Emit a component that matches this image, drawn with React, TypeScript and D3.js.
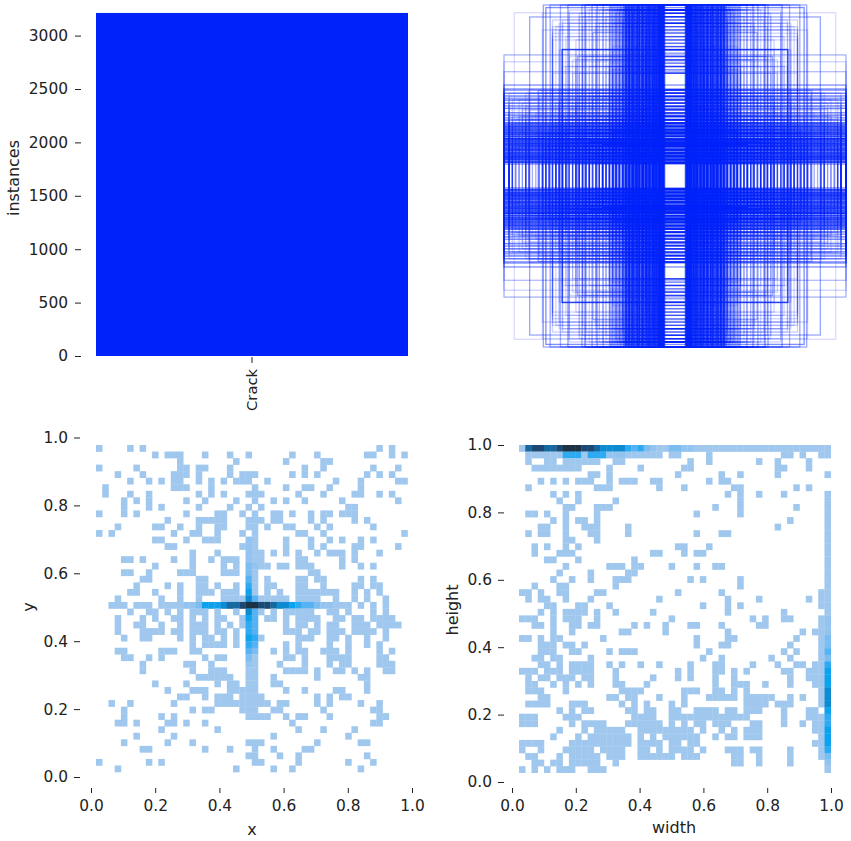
import React, { useEffect, useRef } from 'react';
import * as d3 from 'd3';

// bar panel
const classNames = ['Crack'];
const instanceCounts = [3212];
const instanceTicks = [0, 500, 1000, 1500, 2000, 2500, 3000];
const unitTicks = [0, 0.2, 0.4, 0.6, 0.8, 1];

// occupied histogram cells per row (top row first), columns 0-49
const xyRows: number[][] = [
  [0, 5, 7, 45, 47],
  [9, 11, 12, 13, 17, 21, 24, 31, 35, 43, 44, 47, 49],
  [13, 22, 30, 36, 37],
  [0, 6, 13, 14, 16, 17, 21, 33, 36, 44, 48],
  [3, 7, 12, 13, 14, 16, 21, 23, 24, 25, 31, 33, 35, 43, 45, 47],
  [5, 8, 10, 12, 13, 16, 18, 20, 22, 23, 24, 27, 38, 42, 48, 49],
  [1, 12, 13, 14, 18, 25, 30, 33, 34, 37, 42],
  [1, 5, 8, 16, 18, 20, 24, 25, 26, 32, 36, 41, 42, 45, 47],
  [4, 6, 8, 14, 17, 22, 25, 28, 30, 33, 39, 48],
  [4, 8, 10, 16, 21, 24, 26, 40, 41],
  [0, 4, 6, 14, 19, 20, 23, 25, 28, 29, 31, 34, 36, 37, 39, 40, 41],
  [11, 16, 17, 18, 19, 20, 24, 25, 26, 28, 29, 34, 36, 41, 43],
  [3, 9, 10, 13, 16, 19, 20, 24, 25, 27, 30, 31, 35, 37, 44],
  [0, 2, 12, 15, 16, 19, 23, 25, 32, 33, 36, 49],
  [9, 10, 14, 17, 18, 19, 24, 25, 30, 34, 37, 39, 42, 44],
  [11, 12, 23, 24, 25, 30, 34, 36, 41, 42, 48],
  [15, 19, 24, 25, 26, 28, 30, 32, 35, 37, 38, 39, 41, 45],
  [4, 5, 7, 12, 15, 18, 20, 21, 22, 24, 25, 26, 32, 33, 39, 41],
  [9, 15, 20, 22, 24, 25, 26, 27, 29, 30, 32, 33, 34, 39, 42, 44],
  [4, 5, 8, 13, 14, 15, 20, 21, 22, 24, 25, 34, 35],
  [7, 8, 16, 17, 24, 25, 27, 32, 33, 35, 36, 42, 44],
  [6, 11, 13, 16, 17, 19, 22, 24, 25, 27, 28, 32, 33, 36, 41, 42, 44, 45],
  [5, 6, 9, 13, 16, 17, 18, 20, 21, 22, 24, 25, 27, 29, 32, 33, 34, 35, 36, 37, 38, 41, 43, 45],
  [3, 10, 13, 16, 20, 21, 22, 23, 24, 25, 26, 27, 28, 29, 30, 32, 33, 34, 35, 38, 41, 43, 46],
  [2, 3, 4, 6, 7, 8, 10, 11, 12, 13, 14, 15, 16, 17, 18, 19, 20, 21, 22, 23, 24, 25, 26, 27, 28, 29, 30, 31, 32, 33, 34, 35, 36, 37, 38, 39, 40, 42, 44, 46],
  [5, 8, 9, 11, 13, 15, 16, 17, 19, 22, 24, 25, 26, 28, 30, 31, 32, 33, 34, 37, 38, 40, 44, 46],
  [3, 7, 9, 12, 13, 15, 17, 19, 20, 23, 24, 25, 27, 28, 30, 32, 33, 34, 35, 38, 39, 41, 42, 44, 45, 46, 47],
  [3, 6, 7, 10, 13, 15, 16, 17, 19, 21, 23, 24, 25, 30, 32, 33, 35, 37, 38, 41, 42, 43, 45, 46, 47, 48],
  [3, 7, 8, 9, 10, 12, 13, 15, 16, 17, 19, 20, 22, 24, 25, 30, 31, 32, 34, 35, 37, 38, 39, 41, 42, 43, 44, 46],
  [4, 7, 8, 13, 15, 17, 18, 20, 22, 24, 25, 26, 32, 33, 34, 37, 38, 40, 43, 46],
  [15, 17, 18, 19, 20, 22, 24, 25, 30, 32, 37, 40, 43, 45],
  [3, 4, 10, 11, 12, 15, 16, 24, 25, 28, 30, 32, 33, 36, 37, 38, 40, 45, 47],
  [4, 5, 8, 10, 17, 19, 20, 24, 25, 30, 31, 33, 37, 38, 39, 40, 45, 46],
  [7, 14, 15, 18, 24, 25, 29, 33, 37, 39, 40, 45, 46, 47],
  [7, 15, 18, 19, 20, 24, 25, 30, 31, 32, 33, 35, 38, 39, 41, 43, 46, 47],
  [16, 17, 18, 19, 20, 21, 24, 25, 28, 35, 42, 43],
  [9, 14, 19, 21, 22, 24, 25, 28, 29, 43],
  [11, 15, 16, 17, 21, 22, 23, 24, 25, 30, 33, 38, 39, 43],
  [13, 14, 17, 19, 20, 21, 23, 24, 25, 26, 35, 37, 39, 40],
  [2, 5, 12, 19, 20, 21, 22, 23, 24, 25, 26, 27, 29, 30, 35, 37, 42, 45],
  [4, 15, 17, 18, 23, 24, 25, 28, 29, 36, 44, 45],
  [4, 10, 12, 24, 25, 26, 27, 30, 32, 33, 37, 45, 46],
  [3, 4, 6, 11, 12, 14, 17, 31, 44, 45],
  [10, 19, 32, 36, 41],
  [6, 12, 28, 40],
  [4, 11, 15, 24, 25, 26, 35, 42, 43],
  [7, 8, 17, 21, 25, 28, 33, 34],
  [24, 25, 29, 32, 43],
  [0, 8, 10, 25, 26, 32, 40, 44],
  [3, 22, 28, 31, 42],
];

// [row, column, level] for the cells that are darker than the lightest shade
const xyHot: number[][] = [
  [14, 24, 2], [15, 24, 2], [16, 24, 2], [17, 24, 2], [18, 24, 3], [18, 25, 2], [19, 24, 3], [20, 24, 4], [21, 24, 5],
  [22, 24, 6], [23, 24, 7], [23, 25, 4], [25, 24, 7], [25, 25, 4], [26, 24, 6], [26, 25, 4], [27, 24, 5], [27, 25, 4],
  [28, 24, 5], [28, 25, 4], [29, 24, 6], [29, 25, 5], [30, 24, 5], [30, 25, 4], [31, 24, 4], [31, 25, 3], [32, 24, 3], [33, 24, 2],
  [24, 14, 2], [24, 15, 2], [24, 16, 3], [24, 17, 6], [24, 18, 6], [24, 19, 6], [24, 20, 7], [24, 21, 8], [24, 22, 8],
  [24, 23, 9], [24, 24, 10], [24, 25, 10], [24, 26, 9], [24, 27, 9], [24, 28, 8], [24, 29, 7], [24, 30, 7], [24, 31, 6],
  [24, 32, 5], [24, 33, 4], [24, 34, 4], [24, 35, 3], [24, 36, 2], [24, 37, 2],
];

const whRows: number[][] = [
  d3.range(0, 50),
  [1, 2, 3, 4, 5, 6, 7, 8, 9, 10, 11, 12, 13, 14, 15, 16, 17, 18, 19, 20, 21, 22, 24, 25, 30, 42, 43, 45, 48, 49],
  [1, 4, 5, 7, 8, 9, 10, 11, 12, 15, 16, 27, 30, 38, 41, 46],
  [2, 3, 4, 5, 6, 7, 8, 9, 14, 19, 26, 27, 41, 42, 46],
  [11, 12, 14, 25, 32, 35, 41, 49],
  [3, 5, 7, 9, 10, 11, 14, 16, 17, 18, 21, 22, 30, 32, 33],
  [1, 12, 13, 14, 22, 26, 34, 35, 44, 46],
  [5, 7, 9, 33, 35, 38, 42, 49],
  [6, 9, 15, 35, 49],
  [7, 8, 12, 13, 14, 31, 35, 44, 49],
  [1, 2, 4, 7, 12, 28, 35, 49],
  [5, 7, 9, 10, 12, 43, 49],
  [3, 4, 7, 10, 11, 12, 17, 41, 49],
  [1, 3, 4, 7, 11, 12, 17, 28, 32, 33, 49],
  [7, 8, 12, 49],
  [2, 4, 7, 9, 25, 26, 30, 49],
  [2, 6, 7, 8, 21, 22, 26, 28, 29, 49],
  [4, 5, 9, 18, 49],
  [7, 14, 15, 16, 18, 19, 24, 28, 31, 32, 49],
  [6, 11, 17, 18, 49],
  [5, 8, 11, 15, 16, 17, 27, 29, 35, 49],
  [2, 6, 7, 15, 35, 49],
  [0, 1, 3, 6, 7, 12, 13, 25, 32, 48, 49],
  [1, 3, 4, 7, 11, 22, 33, 38, 46, 48, 49],
  [4, 5, 9, 10, 14, 29, 33, 35, 48, 49],
  [3, 5, 7, 8, 9, 10, 12, 15, 21, 33, 42, 49],
  [0, 1, 2, 5, 7, 8, 9, 12, 24, 37, 39, 42, 43, 48, 49],
  [2, 3, 5, 8, 9, 11, 12, 18, 20, 23, 27, 28, 32, 38, 39, 48, 49],
  [5, 8, 16, 17, 23, 33, 45, 47, 48, 49],
  [0, 1, 3, 5, 6, 13, 28, 33, 34, 44, 48, 49],
  [3, 4, 5, 7, 8, 10, 28, 32, 33, 43, 48, 49],
  [3, 4, 5, 8, 9, 14, 16, 17, 18, 30, 42, 44, 48, 49],
  [2, 3, 5, 6, 11, 29, 32, 40, 43, 48, 49],
  [3, 4, 6, 8, 9, 10, 11, 14, 16, 19, 22, 27, 31, 32, 37, 41, 44, 45, 47, 48, 49],
  [0, 1, 2, 4, 5, 6, 8, 9, 10, 11, 15, 25, 27, 31, 32, 34, 36, 42, 43, 46, 47, 48, 49],
  [1, 3, 4, 6, 7, 8, 10, 11, 15, 21, 25, 27, 31, 34, 43, 46, 47, 48, 49],
  [1, 2, 5, 7, 9, 11, 15, 16, 20, 31, 34, 35, 36, 39, 43, 47, 48, 49],
  [1, 2, 3, 7, 16, 17, 18, 19, 26, 27, 28, 31, 32, 34, 36, 48, 49],
  [3, 4, 14, 15, 17, 18, 22, 26, 30, 31, 32, 33, 34, 36, 37, 38, 39, 40, 43, 45, 48, 49],
  [1, 2, 3, 4, 8, 9, 10, 16, 18, 20, 24, 26, 36, 37, 38, 39, 41, 42, 43, 48, 49],
  [6, 8, 10, 11, 17, 18, 20, 21, 24, 25, 28, 29, 30, 31, 33, 34, 36, 37, 38, 42, 46, 47, 49],
  [0, 1, 2, 7, 8, 9, 18, 19, 20, 21, 24, 25, 26, 27, 28, 29, 30, 31, 32, 33, 34, 35, 36, 42, 46, 47, 48, 49],
  [0, 1, 2, 8, 10, 11, 12, 13, 17, 18, 19, 20, 21, 22, 24, 26, 28, 29, 31, 32, 33, 37, 38, 42, 45, 47, 48, 49],
  [6, 10, 12, 13, 14, 15, 16, 19, 20, 21, 22, 23, 24, 25, 26, 27, 29, 32, 34, 36, 37, 38, 47, 48, 49],
  [5, 9, 11, 12, 13, 14, 15, 16, 17, 19, 21, 23, 24, 25, 26, 27, 28, 31, 33, 34, 36, 37, 38, 48, 49],
  [0, 1, 2, 3, 8, 9, 10, 11, 12, 13, 14, 15, 16, 17, 19, 20, 21, 22, 24, 25, 27, 28, 47, 48, 49],
  [0, 3, 7, 8, 9, 10, 11, 13, 14, 15, 16, 19, 20, 22, 24, 25, 26, 27, 29, 33, 34, 35, 37, 38, 43, 48, 49],
  [1, 2, 6, 8, 9, 10, 11, 12, 14, 15, 16, 19, 20, 21, 22, 23, 24, 26, 27, 28, 34, 35, 38, 43, 48, 49],
  [2, 3, 5, 6, 8, 9, 10, 11, 12, 15, 34, 35, 38, 43, 49],
  [0, 2, 4, 6, 7, 8, 11, 12, 13, 49],
];

const whHot: number[][] = [
  [0, 1, 8], [0, 2, 9], [0, 3, 9], [0, 4, 8], [0, 5, 8], [0, 6, 9], [0, 7, 10], [0, 8, 10], [0, 9, 10], [0, 10, 9], [0, 11, 9],
  [0, 12, 8], [0, 13, 7], [0, 14, 7], [0, 15, 7], [0, 16, 7], [0, 17, 5], [0, 18, 4], [0, 19, 5], [0, 20, 3], [0, 21, 2],
  [0, 24, 3], [0, 25, 3], [0, 26, 2], [0, 27, 2], [1, 7, 5], [1, 8, 5], [1, 9, 5], [1, 11, 5], [1, 12, 5], [1, 13, 5],
  [1, 14, 2], [1, 15, 2], [1, 16, 2],
  [26, 49, 2], [27, 49, 2], [28, 49, 2], [29, 49, 3], [30, 49, 3], [31, 49, 4], [32, 49, 3], [33, 49, 5], [34, 49, 6], [35, 49, 6],
  [36, 49, 6], [37, 49, 7], [38, 49, 7], [39, 49, 7], [40, 49, 6], [41, 49, 5], [42, 49, 5], [43, 49, 6], [44, 49, 6], [45, 49, 6],
  [46, 49, 5], [47, 49, 3], [48, 49, 2],
];

const tallBoxes: number[][] = [
  [0.06, 0.5], [0.064, 0.9], [0.067, 0.8], [0.07, 1], [0.073, 0.8], [0.076, 1], [0.079, 0.8], [0.082, 1], [0.085, 0.8],
  [0.088, 1], [0.091, 0.8], [0.094, 1], [0.097, 0.8], [0.1, 1], [0.105, 0.8], [0.111, 1], [0.116, 0.8], [0.12, 0.9],
  [0.124, 0.8], [0.129, 1], [0.134, 0.8], [0.14, 1], [0.145, 0.8], [0.15, 0.8], [0.153, 0.8], [0.158, 1], [0.164, 1],
  [0.169, 0.8], [0.175, 0.8], [0.181, 0.8], [0.187, 1], [0.192, 0.8], [0.196, 0.8], [0.205, 1], [0.21, 0.8], [0.216, 1],
  [0.22, 0.8], [0.225, 0.8], [0.234, 1], [0.24, 0.8], [0.246, 1], [0.252, 0.8], [0.257, 1], [0.265, 0.8], [0.27, 0.8],
  [0.275, 1], [0.283, 0.8], [0.287, 0.7], [0.292, 0.9], [0.3, 0.6],
  [0.31, 0.5], [0.318, 0.45], [0.327, 0.45], [0.336, 0.4], [0.345, 0.4], [0.354, 0.35], [0.363, 0.35], [0.37, 0.35],
  [0.38, 0.5], [0.42, 0.4], [0.456, 0.45], [0.485, 0.4], [0.526, 0.55], [0.544, 0.4], [0.626, 0.45], [0.67, 0.35],
  [0.73, 0.4], [0.77, 0.4],
];

const wideBoxes: number[][] = [
  [0.07, 0.5], [0.08, 0.8], [0.085, 0.7], [0.094, 0.9], [0.1, 0.8], [0.105, 0.8], [0.111, 1], [0.116, 0.8], [0.122, 0.8],
  [0.128, 0.8], [0.134, 0.9], [0.14, 0.8], [0.148, 0.8], [0.155, 0.8], [0.163, 0.95], [0.17, 0.8], [0.178, 0.8], [0.185, 0.8],
  [0.192, 0.95], [0.2, 0.8], [0.206, 0.8], [0.213, 0.8], [0.22, 0.95], [0.23, 0.8], [0.24, 1], [0.247, 0.8], [0.254, 0.8],
  [0.262, 0.8], [0.269, 0.9], [0.276, 0.8], [0.284, 0.7], [0.29, 0.7], [0.298, 0.8], [0.305, 0.6], [0.312, 0.6], [0.327, 0.6],
  [0.34, 0.5], [0.356, 0.6], [0.37, 0.5], [0.396, 0.6], [0.41, 0.5], [0.426, 0.6], [0.444, 0.6], [0.455, 0.5], [0.468, 0.55],
  [0.484, 0.6], [0.503, 0.6], [0.51, 0.4], [0.532, 0.5], [0.61, 0.3], [0.668, 0.2], [0.708, 0.35],
];

// remaining boxes that stand out on the overlay panel: [width, height, opacity]
const overlayExtras: number[][] = [
  [0.85, 0.93, 0.4], [0.94, 0.955, 0.15], [0.66, 0.74, 0.8], [0.425, 0.185, 0.9], [0.755, 0.985, 0.5],
  [0.36, 0.26, 0.5], [0.5, 0.2, 0.6], [0.8, 0.5, 0.4], [0.48, 0.84, 0.35], [0.57, 0.7, 0.35],
];

const levelColors = ['#ffffff', '#a0c8ee', '#93c4f0', '#7cbdf1', '#57b3f3', '#2faaf3', '#0da2ee', '#0a8bd2', '#14689f', '#1b4a73', '#1f3045'];
const blue = '#0022fa';
const textColor = '#222222';

const expandCells = (rows: number[][], hot: number[][]) => {
  const hotLevel = new Map(hot.map(([r, c, v]) => [`${r}-${c}`, v]));
  return rows.flatMap((cols, row) =>
    cols.map(col => ({ row, col, level: hotLevel.get(`${row}-${col}`) ?? 1 })));
};

const App: React.FC = () => {
  const svgRef = useRef<SVGSVGElement>(null);

  useEffect(() => {
    if (!svgRef.current) return;
    const svg = d3.select(svgRef.current);
    svg.selectAll('*').remove();

    const styleAxis = (g: any) => {
      g.select('.domain').remove();
      g.selectAll('line').attr('stroke', textColor).attr('stroke-width', 1);
      g.selectAll('text').attr('fill', textColor).style('font-family', 'DejaVu Sans').style('font-size', '15.4px');
    };

    const label = (x: number, y: number, text: string, rotate = false) => {
      svg.append('text')
        .attr('transform', `translate(${x},${y})${rotate ? ' rotate(-90)' : ''}`)
        .attr('text-anchor', 'middle')
        .attr('dominant-baseline', 'middle')
        .attr('fill', textColor)
        .style('font-family', 'DejaVu Sans')
        .style('font-size', '16px')
        .text(text);
    };

    const defs = svg.append('defs');
    defs.append('filter').attr('id', 'soft').append('feGaussianBlur').attr('stdDeviation', 0.45);
    defs.append('filter').attr('id', 'softer').append('feGaussianBlur').attr('stdDeviation', 0.6);

    // Bar panel
    const barX = d3.scaleBand<string>().domain(classNames).range([96, 408]);
    const countY = d3.scaleLinear().domain([0, 500]).range([356, 302.6]);
    svg.selectAll('.bar')
      .data(classNames)
      .enter().append('rect')
      .attr('class', 'bar')
      .attr('x', d => barX(d)!)
      .attr('width', barX.bandwidth())
      .attr('y', (_, i) => countY(instanceCounts[i]))
      .attr('height', (_, i) => countY(0) - countY(instanceCounts[i]))
      .attr('fill', blue);
    svg.append('g')
      .attr('transform', 'translate(81,0)')
      .call(d3.axisLeft(countY).tickValues(instanceTicks).tickSize(6).tickPadding(7).tickFormat(d3.format('d')))
      .call(styleAxis);
    const barAxis = svg.append('g')
      .attr('transform', 'translate(0,357)')
      .call(d3.axisBottom(barX).tickSize(6).tickPadding(6))
      .call(styleAxis);
    barAxis.selectAll('text')
      .attr('transform', 'rotate(-90)')
      .attr('x', -12)
      .attr('y', 0)
      .attr('dy', '0.35em')
      .attr('text-anchor', 'end')
      .style('font-size', '14.7px');
    label(14, 178, 'instances', true);

    // Box overlay panel: read-off tall and wide boxes, the other width/height cells as a faint wash
    const boxW = d3.scaleLinear().domain([0, 1]).range([0, 342]);
    const boxH = d3.scaleLinear().domain([0, 1]).range([0, 342]);
    const whCellW = d3.scaleBand<number>().domain(d3.range(50)).range([0.022, 1]);
    const whCellH = d3.scaleBand<number>().domain(d3.range(50)).range([0.0276, 1]);
    const centerX = 675;
    const centerY = 176;
    const faintBoxes = expandCells(whRows, whHot)
      .filter(c => c.row > 0 && c.col < 49)
      .map(c => ({
        w: whCellW(c.col)! + whCellW.bandwidth() / 2,
        h: whCellH(49 - c.row)! + whCellH.bandwidth() / 2,
        o: Math.min(0.45, 0.2 * c.level),
      }))
      .filter(b => b.w >= 0.06 && b.h >= 0.07 && !(b.h > 0.52 && b.h < 0.585) && !(b.w > 0.78 && b.h > 0.6));
    const boxes = [
      ...faintBoxes,
      ...tallBoxes.map(([w, o]) => ({ w, h: 1, o })),
      ...wideBoxes.map(([h, o]) => ({ w: 1, h, o })),
      ...overlayExtras.map(([w, h, o]) => ({ w, h, o })),
    ];
    svg.append('g')
      .attr('filter', 'url(#softer)')
      .selectAll('.box')
      .data(boxes)
      .enter().append('rect')
      .attr('class', 'box')
      .attr('x', d => centerX - boxW(d.w) / 2)
      .attr('y', d => centerY - boxH(d.h) / 2)
      .attr('width', d => boxW(d.w))
      .attr('height', d => boxH(d.h))
      .attr('fill', 'none')
      .attr('stroke', blue)
      .attr('stroke-width', 1.3)
      .attr('stroke-opacity', d => d.o);

    // Histogram panels
    const drawHeatmap = (
      rows: number[][], hot: number[][],
      cellX: [number, number], cellY: [number, number],
      axisX: d3.ScaleLinear<number, number>, axisY: d3.ScaleLinear<number, number>,
      axisLeftX: number,
    ) => {
      const col = d3.scaleBand<number>().domain(d3.range(50)).range(cellX);
      const row = d3.scaleBand<number>().domain(d3.range(50)).range(cellY);
      const color = d3.scaleOrdinal<number, string>().domain(d3.range(levelColors.length)).range(levelColors);
      svg.append('g')
        .attr('filter', 'url(#soft)')
        .selectAll('rect')
        .data(expandCells(rows, hot))
        .enter().append('rect')
        .attr('x', d => col(d.col)!)
        .attr('y', d => row(d.row)!)
        .attr('width', col.bandwidth() + 0.3)
        .attr('height', row.bandwidth() + 0.3)
        .attr('fill', d => color(d.level));
      svg.append('g')
        .attr('transform', `translate(${axisLeftX},0)`)
        .call(d3.axisLeft(axisY).tickValues(unitTicks).tickSize(6).tickPadding(6).tickFormat(d3.format('.1f')))
        .call(styleAxis);
      svg.append('g')
        .attr('transform', 'translate(0,788)')
        .call(d3.axisBottom(axisX).tickValues(unitTicks).tickSize(5).tickPadding(7).tickFormat(d3.format('.1f')))
        .call(styleAxis);
    };

    drawHeatmap(xyRows, xyHot, [96, 407.5], [445, 772],
      d3.scaleLinear().domain([0, 1]).range([91, 412]),
      d3.scaleLinear().domain([0, 1]).range([777, 437.5]), 80);
    label(252, 830, 'x');
    label(29, 607, 'y', true);

    drawHeatmap(whRows, whHot, [519, 830.7], [445, 772.7],
      d3.scaleLinear().domain([0, 1]).range([512, 831]),
      d3.scaleLinear().domain([0, 1]).range([782, 445]), 504);
    label(674, 828, 'width');
    label(453, 610, 'height', true);
  }, []);

  return (
    <svg
      ref={svgRef}
      width={851}
      height={841}
      style={{ position: 'absolute', left: 0, top: 0, background: '#fff' }}
    />
  );
};

export default App;
